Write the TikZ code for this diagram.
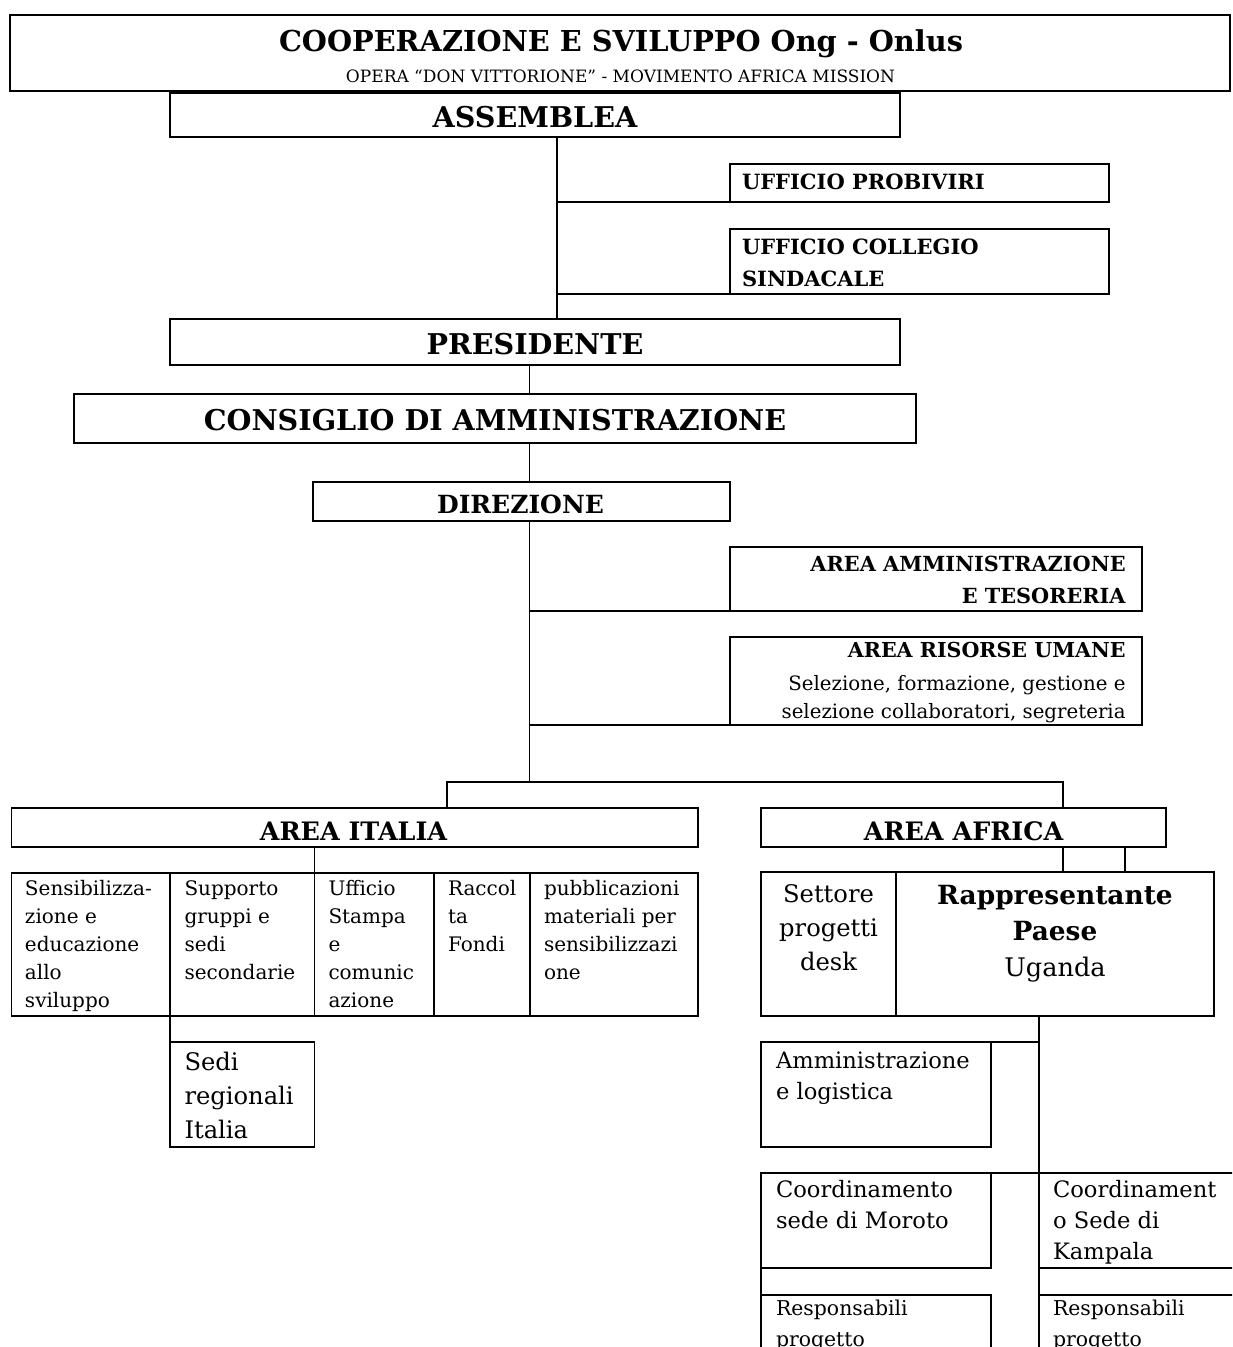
\documentclass[tikz,border=0pt]{standalone}
\usepackage{fontspec}
\setmainfont{DejaVu Serif}
\newcommand{\tl}[2][l]{\begin{tabular}[t]{@{}#1@{}}#2\end{tabular}}
\newcommand{\fsz}[2]{\fontsize{#1}{#2}\selectfont}
\newcommand{\bx}[6][]{\node[box, #1, minimum width={(#5-#3)*0.5pt}, minimum height={(#6-#4)*0.5pt}] (#2) at (#3,#4) {};}
\begin{document}
\begin{tikzpicture}[x=0.5pt,y=-0.5pt,
  box/.style={draw, line width=0.9pt, inner sep=0pt, outer sep=0pt, anchor=north west},
  link/.style={line width=0.9pt},
  txt/.style={inner sep=0pt, outer sep=0pt},
  bigb/.style={txt, anchor=base, font=\bfseries\fsz{14.3}{17}},
  small/.style={txt, anchor=base west, font=\fsz{10}{14}}]
\useasboundingbox (0,0) rectangle (1232,1347);
\clip (0,0) rectangle (1232,1347);

% header
\bx[line width=1.3pt]{top}{10}{15}{1230}{91}
\node[txt, anchor=base, font=\bfseries\fsz{14.4}{17}] (tTitle) at (621,52) {COOPERAZIONE E SVILUPPO Ong - Onlus};
\node[txt, anchor=base, font=\fsz{8.5}{11}] (tSub) at (620.5,83) {OPERA “DON VITTORIONE” - MOVIMENTO AFRICA MISSION};

% assemblea
\bx{ass}{170}{93}{900}{137}
\node[bigb] (tAss) at (535,128) {ASSEMBLEA};
\coordinate (j1) at (557,0);
\bx{prob}{730}{164}{1109}{202}
\node[txt, anchor=base west, font=\bfseries\fsz{10.5}{16}] (tProb) at (742,190) {UFFICIO PROBIVIRI};
\bx{coll}{730}{229}{1109}{294}
\node[txt, anchor=base west, font=\bfseries\fsz{10.5}{16}] (tColl) at (742,255) {\tl{UFFICIO COLLEGIO\\SINDACALE}};

\bx{pres}{170}{319}{900}{365}
\node[bigb] (tPres) at (535,355) {PRESIDENTE};
\draw[link] (ass.south -| j1) -- (pres.north -| j1);
\draw[link] (j1 |- prob.south) -- (prob.south west);
\draw[link] (j1 |- coll.south) -- (coll.south west);

\coordinate (j2) at (529.5,0);
\bx{cda}{74}{394}{916}{443}
\node[bigb] (tCda) at (495,430) {CONSIGLIO DI AMMINISTRAZIONE};
\bx{dir}{313}{482}{730}{521}
\node[txt, anchor=base, font=\bfseries\fsz{12.5}{15}] (tDir) at (520.5,513) {DIREZIONE};
\draw[link] (pres.south -| j2) -- (cda.north -| j2);
\draw[link] (cda.south -| j2) -- (dir.north -| j2);

\bx{amm}{730}{547}{1142}{611}
\node[txt, anchor=base east, font=\bfseries\fsz{10.4}{16}] (tAmm) at (1125.6,571) {\tl[r]{AREA AMMINISTRAZIONE\\E TESORERIA}};
\bx{ris}{730}{637}{1142}{725}
\node[txt, anchor=base east, font=\bfseries\fsz{10.3}{14}] (tRisH) at (1125.6,657) {AREA RISORSE UMANE};
\node[txt, anchor=base east, font=\fsz{9.9}{14}] (tRisB) at (1125.6,690) {\tl[r]{Selezione, formazione, gestione e\\selezione collaboratori, segreteria}};

\coordinate (split) at (529.5,782);
\draw[link] (dir.south -| j2) -- (split);
\draw[link] (j2 |- amm.south) -- (amm.south west);
\draw[link] (j2 |- ris.south) -- (ris.south west);

% areas
\bx{ita}{11.5}{808}{698}{847}
\node[txt, anchor=base, font=\bfseries\fsz{12.7}{15}] (tIta) at (353.5,840) {AREA ITALIA};
\bx{afr}{761}{808}{1166}{847}
\node[txt, anchor=base, font=\bfseries\fsz{12.7}{15}] (tAfr) at (963.5,840) {AREA AFRICA};
\coordinate (ji) at (447,0);
\coordinate (ja) at (1063,0);
\coordinate (jb) at (1125,0);
\draw[link] (ita.north -| ji) -- (split -| ji) -- (split -| ja) -- (afr.north -| ja);

% Italia row
\bx{c1}{11.5}{873}{170}{1016}
\bx{c2}{170}{873}{314.5}{1016}
\bx{c3}{314.5}{873}{434}{1016}
\bx{c4}{434}{873}{530}{1016}
\bx{c5}{530}{873}{698}{1016}
\draw[link] (ita.south -| c3.north west) -- (c3.north west);
\node[small] (t1) at (25,895) {\tl{Sensibilizza-\\zione e\\educazione\\allo\\sviluppo}};
\node[small] (t2) at (184.5,895) {\tl{Supporto\\gruppi e\\sedi\\secondarie}};
\node[small] (t3) at (328.5,895) {\tl{Ufficio\\Stampa\\e\\comunic\\azione}};
\node[small] (t4) at (448,895) {\tl{Raccol\\ta\\Fondi}};
\node[small] (t5) at (544,895) {\tl{pubblicazioni\\materiali per\\sensibilizzazi\\one}};

\bx{sedi}{170}{1042}{314.5}{1147}
\draw[link] (c2.south west) -- (sedi.north west);
\node[txt, anchor=base west, font=\fsz{12.1}{17}] (tSedi) at (184.5,1070) {\tl{Sedi\\regionali\\Italia}};

% Africa
\bx{sett}{761}{872}{896}{1016}
\bx{rapp}{896}{872}{1214}{1016}
\draw[link] (afr.south -| ja) -- (rapp.north -| ja);
\draw[link] (afr.south -| jb) -- (rapp.north -| jb);
\node[txt, anchor=base, font=\fsz{12.1}{17}] (tSett) at (828.5,902) {\tl[c]{Settore\\progetti\\desk}};
\node[txt, anchor=base, font=\fsz{12.8}{18.2}] (tRapp) at (1055,904) {\tl[c]{\fontsize{13.2}{18.2}\selectfont\bfseries Rappresentante\\\fontsize{13.2}{18.2}\selectfont\bfseries Paese\\Uganda}};

\coordinate (jv) at (1039,1347);
\draw[link] (rapp.south -| jv) -- (jv);
\bx{adm}{761}{1042}{991}{1147}
\draw[link] (adm.north east) -- (adm.north east -| jv);
\node[txt, anchor=base west, font=\fsz{11.3}{15.5}] (tAdm) at (776,1068) {\tl{Amministrazione\\e logistica}};
\bx{mor}{761}{1173}{991}{1268}
\bx{kam}{1039}{1173}{1245}{1268}
\draw[link] (mor.north east) -- (kam.north west);
\node[txt, anchor=base west, font=\fsz{11.3}{15.5}] (tMor) at (776,1197) {\tl{Coordinamento\\sede di Moroto}};
\node[txt, anchor=base west, font=\fsz{11.3}{15.5}] (tKam) at (1053,1197) {\tl{Coordinament\\o Sede di\\Kampala}};
\bx{res1}{761}{1295}{991}{1380}
\bx{res2}{1039}{1295}{1245}{1380}
\draw[link] (mor.south west) -- (res1.north west);
\node[txt, anchor=base west, font=\fsz{10.2}{15.5}] (tRes1) at (776,1315) {\tl{Responsabili\\progetto}};
\node[txt, anchor=base west, font=\fsz{10.2}{15.5}] (tRes2) at (1053,1315) {\tl{Responsabili\\progetto}};
\end{tikzpicture}
\end{document}
